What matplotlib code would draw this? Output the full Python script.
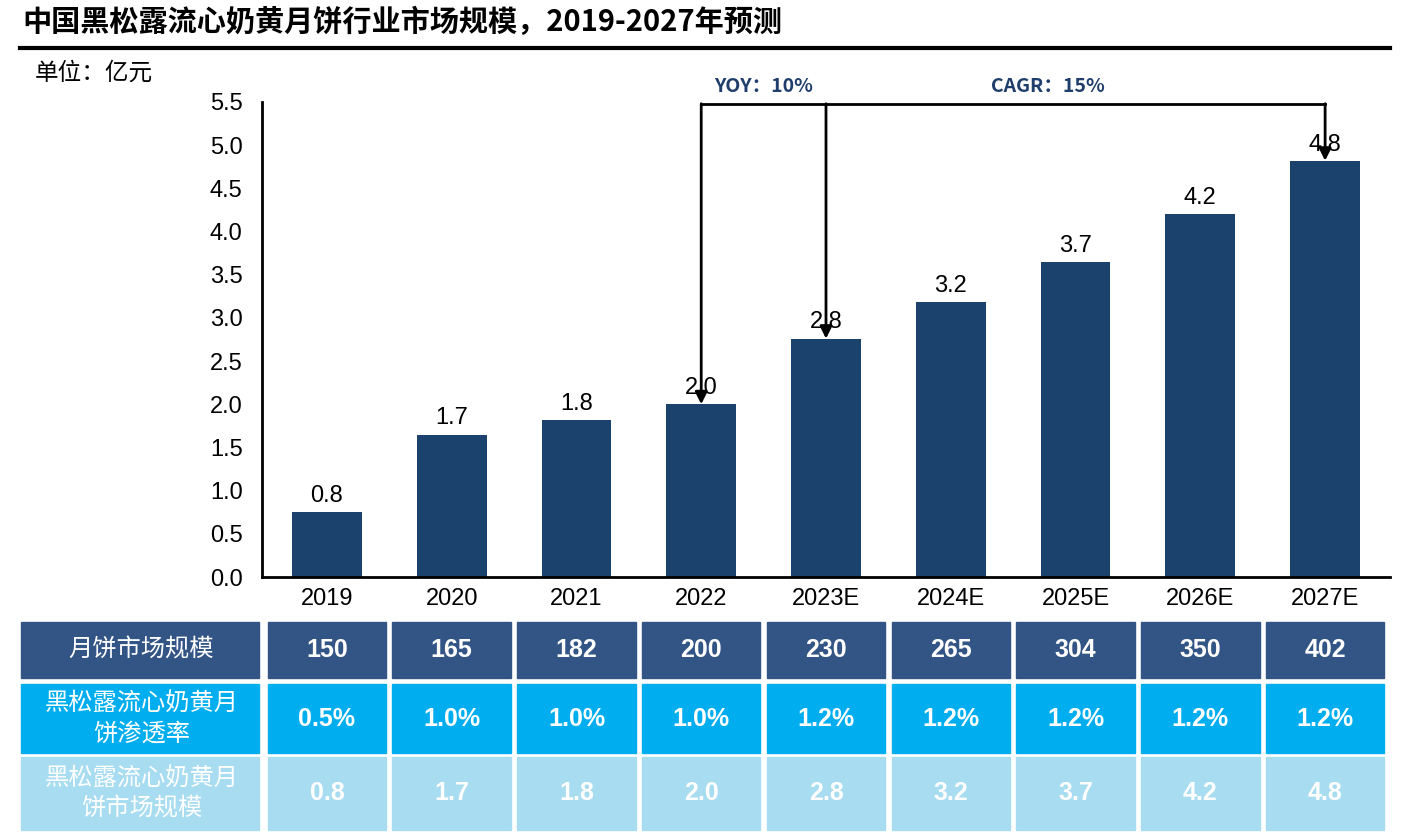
import numpy as np
import matplotlib
matplotlib.use('Agg')
import matplotlib.pyplot as plt
from matplotlib.patches import Rectangle
from matplotlib import transforms

plt.rcParams['font.family'] = ['Liberation Sans', 'Noto Sans CJK SC', 'DejaVu Sans']

# data
years = ['2019', '2020', '2021', '2022', '2023E', '2024E', '2025E', '2026E', '2027E']
mooncake_market = [150, 165, 182, 200, 230, 265, 304, 350, 402]
penetration = ['0.5%', '1.0%', '1.0%', '1.0%', '1.2%', '1.2%', '1.2%', '1.2%', '1.2%']
truffle_market = [0.75, 1.65, 1.82, 2.0, 2.76, 3.18, 3.65, 4.2, 4.82]
truffle_labels = ['0.8', '1.7', '1.8', '2.0', '2.8', '3.2', '3.7', '4.2', '4.8']
row_names = ['月饼市场规模', '黑松露流心奶黄月\n饼渗透率', '黑松露流心奶黄月\n饼市场规模']

W, H = 1413, 839
fig = plt.figure(figsize=(W / 100, H / 100), dpi=100)
ax = fig.add_axes([262 / W, 1 - 577 / H, (1390 - 262) / W, (577 - 102) / H])

x = np.arange(len(years))
bar_color = '#1B426C'
ax.bar(x, truffle_market, width=0.56, color=bar_color, zorder=2)
for xi, v, lab in zip(x, truffle_market, truffle_labels):
    ax.text(xi, v + 0.06, lab, ha='center', va='bottom', fontsize=17, color='black')

ax.set_xlim(-0.52, len(years) - 1 + 0.52)
ax.set_ylim(0, 5.5)
ax.set_yticks(np.arange(0, 5.51, 0.5))
ax.set_yticklabels(['%.1f' % t for t in np.arange(0, 5.51, 0.5)], fontsize=17)
ax.set_xticks(x)
ax.set_xticklabels(years, fontsize=17)
ax.tick_params(axis='y', length=0, pad=14)
ax.tick_params(axis='x', length=0, pad=8)
for s in ['top', 'right']:
    ax.spines[s].set_visible(False)
for s in ['left', 'bottom']:
    ax.spines[s].set_linewidth(2)

# annotation arrows
ytop = 5.48
ax.plot([3, 8], [ytop, ytop], color='black', lw=2, clip_on=False, zorder=3)
for i in [3, 4, 8]:
    ax.annotate('', xy=(i, truffle_market[i]), xytext=(i, ytop),
                arrowprops=dict(arrowstyle='-|>', color='black', lw=2,
                                shrinkA=0, shrinkB=0, mutation_scale=18),
                annotation_clip=False, zorder=3)
ann_color = '#1F3E6B'
ax.text(3.5, 5.68, 'YOY：10%', ha='center', va='center', fontsize=14,
        fontweight='bold', color=ann_color, family=['Noto Sans CJK SC', 'DejaVu Sans'])
ax.text(5.78, 5.68, 'CAGR：15%', ha='center', va='center', fontsize=14,
        fontweight='bold', color=ann_color, family=['Noto Sans CJK SC', 'DejaVu Sans'])

# title
fig.text(22 / W, 1 - 22 / H, '中国黑松露流心奶黄月饼行业市场规模，2019-2027年预测',
         ha='left', va='center', fontsize=21, fontweight='bold',
         family=['Noto Sans CJK SC', 'DejaVu Sans'])
fig.add_artist(plt.Line2D([20 / W, 1390 / W], [1 - 48 / H, 1 - 48 / H],
                          color='black', lw=3))
fig.text(35 / W, 1 - 73 / H, '单位：亿元', ha='left', va='center', fontsize=17,
         family=['Noto Sans CJK SC', 'DejaVu Sans'])

# table
trans = transforms.blended_transform_factory(ax.transData, fig.transFigure)
rows_y = [(622, 678), (684, 753), (757, 830)]
row_colors = ['#335586', '#00AEEF', '#A8DCF0']
row_vals = [[str(v) for v in mooncake_market], penetration, truffle_labels]
gap = 0.025
label_left = -0.52 - (263 - 22) / 124.75
for (y0, y1), col, vals, name in zip(rows_y, row_colors, row_vals, row_names):
    fy0 = 1 - y1 / H
    fh = (y1 - y0) / H
    ax.add_patch(Rectangle((label_left, fy0), -0.52 - gap - label_left, fh,
                           transform=trans, color=col, clip_on=False))
    ax.text((label_left - 0.52) / 2, fy0 + fh / 2, name, transform=trans,
            ha='center', va='center', fontsize=17.5, color='white',
            linespacing=1.2, family=['Noto Sans CJK SC', 'DejaVu Sans'])
    for xi, v in zip(x, vals):
        ax.add_patch(Rectangle((xi - 0.5 + gap, fy0), 1 - 2 * gap, fh,
                               transform=trans, color=col, clip_on=False))
        ax.text(xi, fy0 + fh / 2, v, transform=trans, ha='center', va='center',
                fontsize=18, fontweight='bold', color='white')

fig.savefig('out.png', dpi=100)
